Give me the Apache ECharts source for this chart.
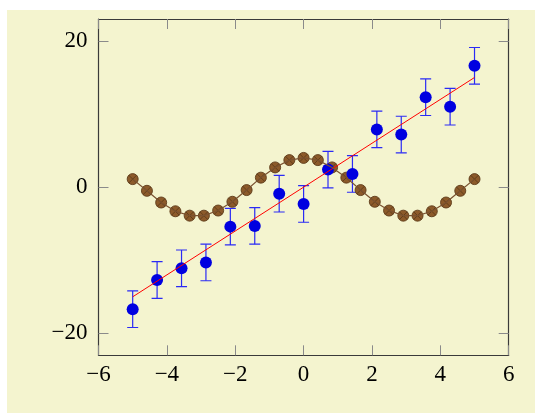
<!DOCTYPE html>
<html><head><meta charset="utf-8">
<script src="https://cdn.jsdelivr.net/npm/echarts@6/dist/echarts.min.js"></script>
<style>
html,body{margin:0;padding:0;background:#fff;width:535px;height:413px;overflow:hidden}
#c{position:absolute;left:7px;top:10px;width:528px;height:403px;background:#f4f4cf}
</style></head><body><div id="c"></div>
<script>
// ---- data ----
const brownX = [-5, -4.583, -4.167, -3.75, -3.333, -2.917, -2.5, -2.083, -1.667, -1.25, -0.833, -0.417, 0, 0.417, 0.833, 1.25, 1.667, 2.083, 2.5, 2.917, 3.333, 3.75, 4.167, 4.583, 5];
const brownY = [1.1, -0.5, -2.1, -3.3, -3.9, -3.9, -3.2, -2.0, -0.4, 1.3, 2.7, 3.7, 4.0, 3.7, 2.7, 1.3, -0.4, -2.0, -3.2, -3.9, -3.9, -3.3, -2.1, -0.5, 1.1];
const blueX = [-5, -4.286, -3.571, -2.857, -2.143, -1.429, -0.714, 0, 0.714, 1.429, 2.143, 2.857, 3.571, 4.286, 5];
const blueY = [-16.7, -12.7, -11.1, -10.3, -5.4, -5.3, -0.9, -2.3, 2.4, 1.8, 7.9, 7.2, 12.3, 11.0, 16.6];
const blueErr = [2.5, 2.5, 2.5, 2.5, 2.5, 2.5, 2.5, 2.5, 2.5, 2.5, 2.5, 2.5, 2.5, 2.5, 2.5];
const fitX = [-5, 5];
const fitY = [-15, 15];
const xTicks = [-6, -4, -2, 0, 2, 4, 6];
const yTicks = [-20, 0, 20];

const fmt = v => (v < 0 ? '\u2212' + (-v) : String(v));
const brownData = brownX.map((x, i) => [x, brownY[i]]);
const blueData = blueX.map((x, i) => [x, blueY[i]]);
const errData = blueX.map((x, i) => [x, blueY[i] - blueErr[i], blueY[i] + blueErr[i]]);
const fitData = fitX.map((x, i) => [x, fitY[i]]);

const axisLine = {show: true, onZero: false, lineStyle: {color: '#3a3a3a', width: 1.2}};
const tick = {show: true, inside: true, length: 10, lineStyle: {color: '#8a8a8a', width: 1}};
const labelStyle = {fontFamily: 'Liberation Serif', fontSize: 23, color: '#000'};

const chart = echarts.init(document.getElementById('c'), null, {renderer: 'canvas'});
chart.setOption({
  animation: false,
  grid: {left: 91.5, top: 9, right: 26.3, bottom: 57.7, containLabel: false, outerBoundsMode: 'none'},
  xAxis: [
    {type: 'value', position: 'bottom', min: -6, max: 6, interval: 2,
     axisLine, axisTick: Object.assign({customValues: xTicks}, tick), splitLine: {show: false},
     axisLabel: Object.assign({margin: 8, customValues: xTicks, formatter: fmt}, labelStyle)},
    {type: 'value', position: 'top', min: -6, max: 6, interval: 2,
     axisLine, axisTick: Object.assign({customValues: xTicks}, tick), splitLine: {show: false}, axisLabel: {show: false}}
  ],
  yAxis: [
    {type: 'value', position: 'left', min: -23, max: 23,
     axisLine, axisTick: Object.assign({customValues: yTicks}, tick), splitLine: {show: false},
     axisLabel: Object.assign({margin: 11, customValues: yTicks, formatter: fmt}, labelStyle)},
    {type: 'value', position: 'right', min: -23, max: 23,
     axisLine, axisTick: Object.assign({customValues: yTicks}, tick), splitLine: {show: false},
     axisLabel: {show: false, customValues: yTicks}}
  ],
  series: [
    {type: 'custom', xAxisIndex: 0, yAxisIndex: 0, data: errData, clip: true,
     renderItem: (params, api) => {
       const lo = api.coord([api.value(0), api.value(1)]);
       const hi = api.coord([api.value(0), api.value(2)]);
       const w = 5.5, st = {stroke: '#2a2af5', lineWidth: 1.2};
       return {type: 'group', children: [
         {type: 'line', shape: {x1: lo[0], y1: lo[1], x2: hi[0], y2: hi[1]}, style: st},
         {type: 'line', shape: {x1: lo[0] - w, y1: lo[1], x2: lo[0] + w, y2: lo[1]}, style: st},
         {type: 'line', shape: {x1: hi[0] - w, y1: hi[1], x2: hi[0] + w, y2: hi[1]}, style: st}
       ]};
     }},
    {type: 'scatter', data: blueData, symbol: 'circle', symbolSize: 12,
     itemStyle: {color: '#0000e0', opacity: 1}},
    {type: 'line', data: fitData, showSymbol: false, symbol: 'none',
     lineStyle: {color: '#ff0000', width: 1}},
    {type: 'line', data: brownData, showSymbol: false, symbol: 'none',
     lineStyle: {color: '#7a5230', width: 1.2}},
    {type: 'custom', data: brownData,
     renderItem: (params, api) => {
       const p = api.coord([api.value(0), api.value(1)]);
       const r = 5.5, d = r * 0.72;
       const dark = '#5c3a18';
       return {type: 'group', children: [
         {type: 'circle', shape: {cx: p[0], cy: p[1], r: r}, style: {fill: '#8c5a2a', stroke: dark, lineWidth: 0.9}},
         {type: 'line', shape: {x1: p[0] - d, y1: p[1] - d, x2: p[0] + d, y2: p[1] + d}, style: {stroke: dark, lineWidth: 0.9}},
         {type: 'line', shape: {x1: p[0] - d, y1: p[1] + d, x2: p[0] + d, y2: p[1] - d}, style: {stroke: dark, lineWidth: 0.9}}
       ]};
     }}
  ]
});
</script></body></html>
